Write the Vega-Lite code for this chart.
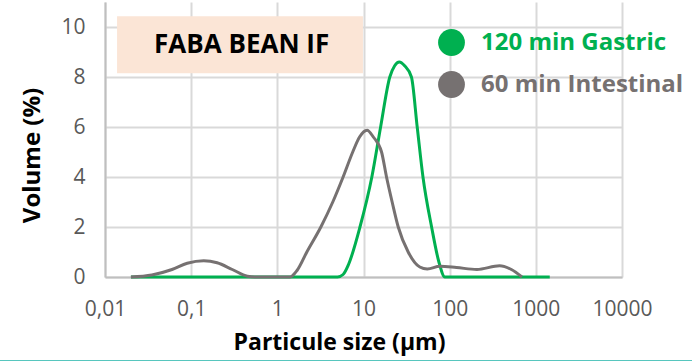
{
  "$schema": "https://vega.github.io/schema/vega-lite/v6.json",
  "width": 517,
  "height": 275,
  "autosize": {"type": "none"},
  "padding": {"left": 105, "top": 2, "right": 70, "bottom": 84},
  "background": "white",
  "config": {"view": {"stroke": null}, "font": "Open Sans"},
  "layer": [
    {
      "data": {"values": [{}]},
      "mark": {"type": "rect", "color": "#fbe5d6"},
      "encoding": {
        "x": {"datum": 0.0138, "type": "quantitative"},
        "x2": {"datum": 9.85},
        "y": {"datum": 8.15, "type": "quantitative"},
        "y2": {"datum": 10.43}
      }
    },
    {
      "data": {"values": [{}]},
      "mark": {"type": "text", "text": "FABA BEAN IF", "font": "Open Sans", "fontWeight": "bold", "fontSize": 26, "color": "#000000", "baseline": "middle"},
      "encoding": {
        "x": {"datum": 0.385, "type": "quantitative"},
        "y": {"datum": 9.27, "type": "quantitative"}
      }
    },
    {
      "data": {"values": [{}]},
      "mark": {"type": "rule", "color": "#1fb3a8", "strokeWidth": 2, "clip": false},
      "encoding": {
        "x": {"datum": 0.0005, "type": "quantitative"},
        "x2": {"datum": 80000},
        "y": {"datum": -3.37, "type": "quantitative"}
      }
    },
    {
      "data": {"values": [
        {"size": 0.02, "volume": 0, "series": "120 min Gastric"},
        {"size": 0.1, "volume": 0, "series": "120 min Gastric"},
        {"size": 1, "volume": 0, "series": "120 min Gastric"},
        {"size": 5, "volume": 0, "series": "120 min Gastric"},
        {"size": 5.8, "volume": 0.1, "series": "120 min Gastric"},
        {"size": 6.7, "volume": 0.5, "series": "120 min Gastric"},
        {"size": 9.1, "volume": 2, "series": "120 min Gastric"},
        {"size": 12.5, "volume": 4, "series": "120 min Gastric"},
        {"size": 15.8, "volume": 6, "series": "120 min Gastric"},
        {"size": 20.2, "volume": 8, "series": "120 min Gastric"},
        {"size": 23, "volume": 8.45, "series": "120 min Gastric"},
        {"size": 26, "volume": 8.6, "series": "120 min Gastric"},
        {"size": 30, "volume": 8.45, "series": "120 min Gastric"},
        {"size": 36, "volume": 8, "series": "120 min Gastric"},
        {"size": 42, "volume": 6, "series": "120 min Gastric"},
        {"size": 49, "volume": 4, "series": "120 min Gastric"},
        {"size": 61.7, "volume": 2, "series": "120 min Gastric"},
        {"size": 75, "volume": 0.6, "series": "120 min Gastric"},
        {"size": 88, "volume": 0, "series": "120 min Gastric"},
        {"size": 200, "volume": 0, "series": "120 min Gastric"},
        {"size": 1450, "volume": 0, "series": "120 min Gastric"},
        {"size": 0.02, "volume": 0, "series": "60 min Intestinal"},
        {"size": 0.035, "volume": 0.08, "series": "60 min Intestinal"},
        {"size": 0.06, "volume": 0.3, "series": "60 min Intestinal"},
        {"size": 0.09, "volume": 0.55, "series": "60 min Intestinal"},
        {"size": 0.14, "volume": 0.65, "series": "60 min Intestinal"},
        {"size": 0.2, "volume": 0.57, "series": "60 min Intestinal"},
        {"size": 0.3, "volume": 0.3, "series": "60 min Intestinal"},
        {"size": 0.45, "volume": 0.03, "series": "60 min Intestinal"},
        {"size": 0.55, "volume": 0, "series": "60 min Intestinal"},
        {"size": 1.4, "volume": 0, "series": "60 min Intestinal"},
        {"size": 1.7, "volume": 0.27, "series": "60 min Intestinal"},
        {"size": 2.2, "volume": 1, "series": "60 min Intestinal"},
        {"size": 3.2, "volume": 2, "series": "60 min Intestinal"},
        {"size": 4.4, "volume": 3, "series": "60 min Intestinal"},
        {"size": 5.8, "volume": 4, "series": "60 min Intestinal"},
        {"size": 7.5, "volume": 5, "series": "60 min Intestinal"},
        {"size": 9, "volume": 5.6, "series": "60 min Intestinal"},
        {"size": 11, "volume": 5.87, "series": "60 min Intestinal"},
        {"size": 13, "volume": 5.6, "series": "60 min Intestinal"},
        {"size": 16.2, "volume": 5, "series": "60 min Intestinal"},
        {"size": 18.5, "volume": 4, "series": "60 min Intestinal"},
        {"size": 21.5, "volume": 3, "series": "60 min Intestinal"},
        {"size": 25.3, "volume": 2, "series": "60 min Intestinal"},
        {"size": 33, "volume": 1, "series": "60 min Intestinal"},
        {"size": 45, "volume": 0.4, "series": "60 min Intestinal"},
        {"size": 55, "volume": 0.32, "series": "60 min Intestinal"},
        {"size": 77, "volume": 0.43, "series": "60 min Intestinal"},
        {"size": 120, "volume": 0.38, "series": "60 min Intestinal"},
        {"size": 207, "volume": 0.3, "series": "60 min Intestinal"},
        {"size": 380, "volume": 0.45, "series": "60 min Intestinal"},
        {"size": 520, "volume": 0.3, "series": "60 min Intestinal"},
        {"size": 690, "volume": 0, "series": "60 min Intestinal"}
      ]},
      "mark": {"type": "line", "interpolate": "monotone", "strokeWidth": 3},
      "encoding": {
        "x": {
          "field": "size", "type": "quantitative",
          "scale": {"type": "log", "domain": [0.01, 10000]},
          "axis": {
            "title": "Particule size (µm)",
            "grid": true,
            "values": [0.01, 0.1, 1, 10, 100, 1000, 10000],
            "labelExpr": "replace(toString(datum.value), '.', ',')",
            "labelFont": "Open Sans", "labelFontSize": 21, "labelColor": "#595959",
            "labelPadding": 21, "tickSize": 0,
            "domainColor": "#bfbfbf", "domainWidth": 2,
            "gridColor": "#d9d9d9", "gridWidth": 2,
            "titleFont": "Open Sans", "titleFontSize": 23, "titleFontWeight": "bold", "titleColor": "#000000",
            "titleX": 234, "titleAnchor": "middle", "titleAlign": "center",
            "titlePadding": 12, "labelFlush": false
          }
        },
        "y": {
          "field": "volume", "type": "quantitative",
          "scale": {"domain": [0, 11], "nice": false},
          "axis": {
            "title": "Volume (%)",
            "grid": true,
            "values": [0, 2, 4, 6, 8, 10],
            "labelFont": "Open Sans", "labelFontSize": 21, "labelColor": "#595959",
            "labelPadding": 20, "tickSize": 0,
            "domainColor": "#bfbfbf", "domainWidth": 2,
            "gridColor": "#d9d9d9", "gridWidth": 2,
            "titleFont": "Open Sans", "titleFontSize": 24, "titleFontWeight": "bold", "titleColor": "#000000",
            "titleY": 153, "titleAlign": "center",
            "titlePadding": 16
          }
        },
        "color": {
          "field": "series", "type": "nominal",
          "scale": {"domain": ["120 min Gastric", "60 min Intestinal"], "range": ["#00b050", "#767171"]},
          "legend": {
            "title": null,
            "orient": "none",
            "legendX": 333,
            "legendY": 27,
            "symbolType": "circle",
            "symbolSize": 720,
            "symbolStrokeWidth": 0,
            "labelFont": "Open Sans",
            "labelFontSize": 24,
            "labelFontWeight": "bold",
            "labelOffset": 16,
            "labelLimit": 0,
            "rowPadding": 15,
            "encode": {
              "symbols": {"update": {"fill": {"scale": "color", "field": "value"}, "fillOpacity": {"value": 1}, "strokeWidth": {"value": 0}}},
              "labels": {"update": {"fill": {"scale": "color", "field": "value"}}}
            }
          }
        }
      }
    }
  ]
}
